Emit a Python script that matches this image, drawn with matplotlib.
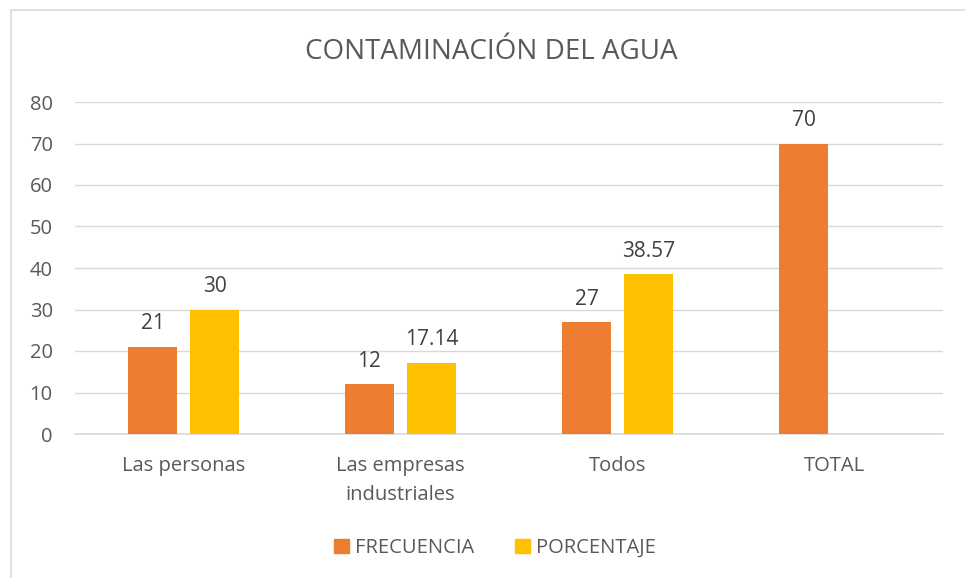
import matplotlib.pyplot as plt
import matplotlib.patches as mpatches
import numpy as np

categories = ['Las personas', 'Las empresas\nindustriales', 'Todos', 'TOTAL']
frecuencia = [21, 12, 27, 70]
porcentaje = [30, 17.14, 38.57, None]
yticks = [0, 10, 20, 30, 40, 50, 60, 70, 80]

orange = '#ED7D31'
yellow = '#FFC000'
txt = '#595959'

plt.rcParams['font.family'] = ['Open Sans', 'DejaVu Sans']

W, H = 965, 578
fig = plt.figure(figsize=(W / 100, H / 100), dpi=100)
ax = fig.add_axes([75 / W, 1 - 434 / H, (943 - 75) / W, (434 - 102) / H])

# chart border (cut off at right and bottom like the screenshot)
fig.patches.append(mpatches.Rectangle((11 / W, -0.1), 1.2, 1 - 10 / H + 0.1,
                                      transform=fig.transFigure, fill=False,
                                      edgecolor='#D9D9D9', linewidth=1.2))

x = np.arange(len(categories))
bw = 0.226
off = 0.143
lab_off = 4.2

for i, v in enumerate(frecuencia):
    ax.bar(x[i] - off, v, bw, color=orange, zorder=3)
    ax.text(x[i] - off, v + lab_off, f'{v:g}', ha='center', va='baseline',
            fontsize=15, color='#404040')
for i, v in enumerate(porcentaje):
    if v is None:
        continue
    ax.bar(x[i] + off, v, bw, color=yellow, zorder=3)
    ax.text(x[i] + off, v + lab_off, f'{v:g}', ha='center', va='baseline',
            fontsize=15, color='#404040')

ax.set_xlim(-0.5, len(categories) - 0.5)
ax.set_ylim(0, 80)
ax.set_yticks(yticks)
ax.set_xticks(x)
ax.set_xticklabels(categories, fontsize=14.5, color=txt, linespacing=1.6)
ax.tick_params(axis='y', labelsize=14.5, labelcolor=txt, length=0, pad=16)
ax.tick_params(axis='x', length=0, pad=16)
ax.grid(axis='y', color='#D9D9D9', linewidth=1, zorder=0)
for s in ['top', 'right', 'left']:
    ax.spines[s].set_visible(False)
ax.spines['bottom'].set_color('#D9D9D9')
ax.spines['bottom'].set_linewidth(1.2)

fig.text(491 / W, 1 - 52 / H, 'CONTAMINACIÓN DEL AGUA', ha='center', va='center',
         fontsize=20, color=txt)

handles = [mpatches.Patch(color=orange, label='FRECUENCIA'),
           mpatches.Patch(color=yellow, label='PORCENTAJE')]
fig.legend(handles=handles, loc='center', bbox_to_anchor=(495 / W, 1 - 548 / H),
           ncol=2, frameon=False, fontsize=14.5, handlelength=0.75, handleheight=0.75,
           handletextpad=0.3, columnspacing=2.0, labelcolor=txt)

fig.savefig('out.png', dpi=100)
